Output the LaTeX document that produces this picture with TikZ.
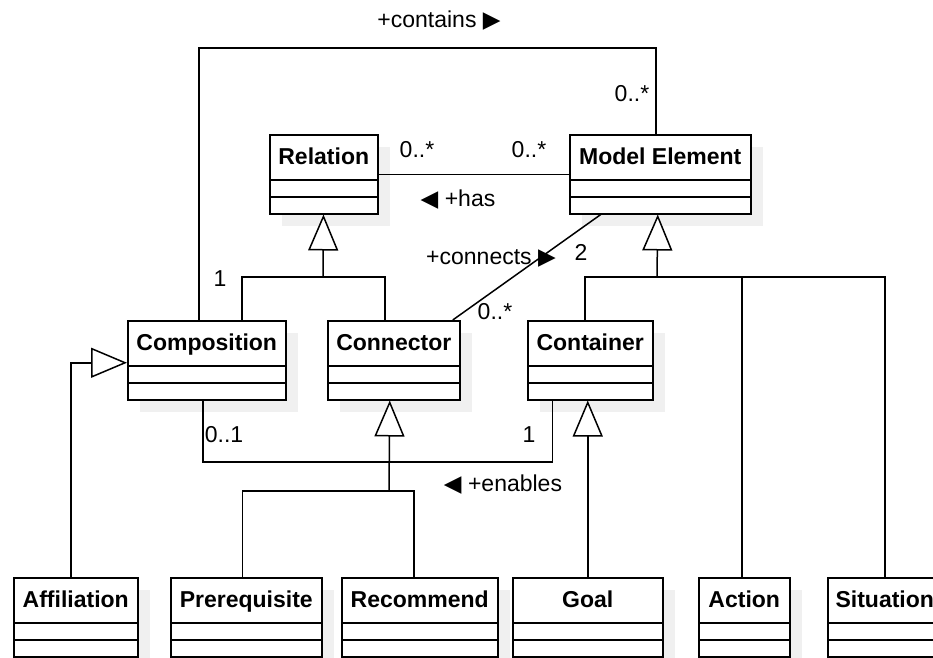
\documentclass[tikz,border=0pt]{standalone}
\usepackage{fontspec}
\setmainfont{Liberation Sans}
\newfontfamily\trifont{DejaVu Sans}
\newcommand{\tri}[1]{{\trifont #1}}
\usetikzlibrary{positioning,shadows,arrows.meta}
\tikzset{
  classbox/.style={draw,fill=white,anchor=north west,inner sep=0pt,
    text height=30pt,text depth=49pt,font=\fontsize{23}{27}\selectfont\bfseries,
    drop shadow={shadow xshift=12pt,shadow yshift=-12pt,fill=black!6,opacity=1},
    path picture={\draw
      ([yshift=-45pt]path picture bounding box.north west) -- ([yshift=-45pt]path picture bounding box.north east)
      ([yshift=-62pt]path picture bounding box.north west) -- ([yshift=-62pt]path picture bounding box.north east);}},
  mult/.style={font=\fontsize{23}{27}\selectfont,inner sep=0pt},
  gen/.style={-{Triangle[open,length=36pt,width=30pt,fill=white]}}
}

\begin{document}
\begin{tikzpicture}[x=1pt,y=-1pt,line width=1.5pt]
                   \useasboundingbox (0,0) rectangle (933,657);
                   \node[classbox,minimum width=108pt] (relation) at (269,134) {Relation};
                   \node[classbox,minimum width=181pt] (element) at (569,134) {Model Element};
                   \node[classbox,minimum width=158pt] (composition) at (127,320) {Composition};
                   \node[classbox,minimum width=132pt] (connector) at (327,320) {Connector};
                   \node[classbox,minimum width=125pt] (container) at (527,320) {Container};
                   \node[classbox,minimum width=124pt] (affiliation) at (13,577) {Affiliation};
                   \node[classbox,minimum width=151pt] (prerequisite) [right=31.5pt of affiliation] {Prerequisite};
                   \node[classbox,minimum width=156pt] (recommend) [right=18.5pt of prerequisite] {Recommend};
                   \node[classbox,minimum width=150pt] (goal) [right=13.5pt of recommend] {Goal};
                   \node[classbox,minimum width=91pt] (action) [right=34.5pt of goal] {Action};
                   \node[classbox,minimum width=114pt] (situation) [right=36.5pt of action] {Situation};
                   \coordinate (c_top) at (430,48);
                   \coordinate (c_rel) at (323,277);
                   \coordinate (c_elem) at (657,277);
                   \coordinate (c_enab) at (380,462);
                   \coordinate (c_conn) at (389,491);
                    \draw (relation) -- (element);
                    \draw ([xshift=-8pt]composition.north) |- (c_top) -| ([xshift=-4.5pt]element.north);
                    \draw ([xshift=-59.5pt]element.south) -- ([xshift=59pt]connector.north);
                    \draw ([xshift=-4pt]composition.south) |- (c_enab) -| ([xshift=-38pt]container.south);
                    \draw[gen] (c_rel) -- (relation);
                    \draw ([xshift=35pt]composition.north) |- (c_rel) -| ([xshift=-9pt]connector.north);
                    \draw[gen] (c_elem) -- ([xshift=-2.5pt]element.south);
                    \draw ([xshift=-5.5pt]container.north) |- (c_elem) -| (situation.north);
                    \draw ([xshift=-2.5pt]action.north) -- ([xshift=-2.5pt]action.north |- c_elem);
                    \draw[gen] (c_conn) -- ([xshift=-4pt]connector.south);
                    \draw ([xshift=-4pt]prerequisite.north) |- (c_conn) -| ([xshift=-6pt]recommend.north);
                    \draw[gen] (goal.north) -- ([xshift=-2.5pt]container.south);
                    \draw[gen] ([xshift=-5pt]affiliation.north) |- ([yshift=-2.5pt]composition.west);
                   \node[mult] (l_contains) at (439,21) {+contains \tri{▶}};
                   \node[mult] (l_m1) at (632,94) {0..*};
                   \node[mult] (l_one) at (220,279) {1};
                   \node[mult] (l_m2) at (417,150) {0..*};
                   \node[mult] (l_m3) at (529,150) {0..*};
                   \node[mult] (l_has) at (458,200) {\tri{◀} +has};
                   \node[mult] (l_connects) at (491,258) {+connects \tri{▶}};
                   \node[mult] (l_two) at (581,252) {2};
                   \node[mult] (l_m4) at (495,312) {0..*};
                   \node[mult] (l_zo) at (224,435) {0..1};
                   \node[mult] (l_one2) at (529,435) {1};
                   \node[mult] (l_enables) at (503,485) {\tri{◀} +enables};
\end{tikzpicture}
\end{document}
